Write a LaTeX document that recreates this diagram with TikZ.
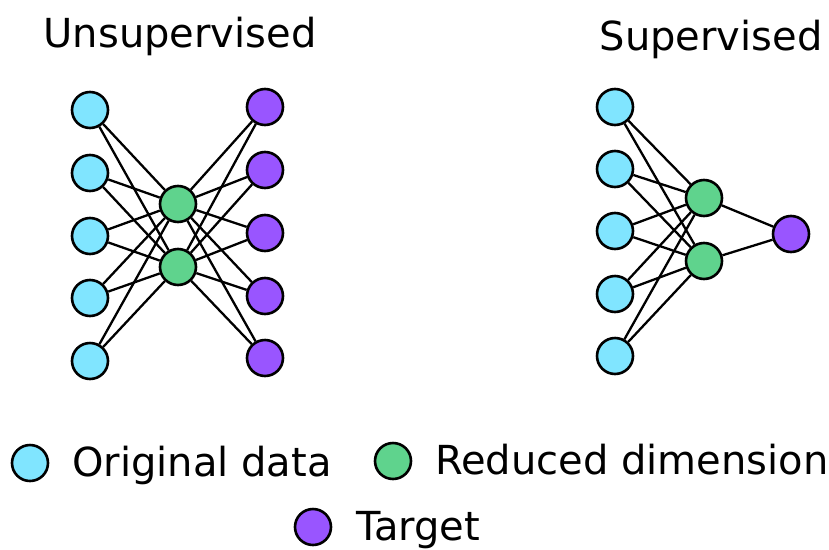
\documentclass[tikz,border=0pt]{standalone}
\usepackage{fontspec}
\setmainfont{DejaVu Sans}
\definecolor{cOrig}{HTML}{80E5FF}
\definecolor{cRed}{HTML}{5FD38D}
\definecolor{cTgt}{HTML}{9955FF}
\begin{document}
\begin{tikzpicture}[x=1pt,y=-1pt,
  neuron/.style={circle,draw=black,line width=2.6pt,minimum size=36pt,inner sep=0pt},
  orig/.style={neuron,fill=cOrig},
  red/.style={neuron,fill=cRed},
  tgt/.style={neuron,fill=cTgt},
  edge/.style={line width=2.3pt,black},
  lbl/.style={font=\fontsize{40}{48}\selectfont,inner sep=0pt}]
\useasboundingbox (0,0) rectangle (829,549);
% Left network
\foreach \i/\y in {1/110,2/173,3/236,4/298,5/361}{
  \node[orig] (la\i) at (90,\y) {};
}
\foreach \i/\y in {1/107,2/170,3/233,4/296,5/358}{
  \node[tgt] (lc\i) at (265,\y) {};
}
\node[red] (lb1) at (178,204) {};
\node[red] (lb2) at (178,267) {};
\foreach \i in {1,...,5}{
  \foreach \j in {1,2}{
    \draw[edge] (la\i) -- (lb\j);
    \draw[edge] (lb\j) -- (lc\i);
  }
}
% Right network
\foreach \i/\y in {1/107,2/169,3/231,4/294,5/356}{
  \node[orig] (ra\i) at (615,\y) {};
}
\node[red] (rb1) at (704,198) {};
\node[red] (rb2) at (704,261) {};
\node[tgt] (rc) at (791,234) {};
\foreach \i in {1,...,5}{
  \foreach \j in {1,2}{
    \draw[edge] (ra\i) -- (rb\j);
  }
}
\draw[edge] (rb1) -- (rc);
\draw[edge] (rb2) -- (rc);
% Titles
\node[lbl,anchor=base] (t1) at (180,47) {Unsupervised};
\node[lbl,anchor=base] (t2) at (711,50) {Supervised};
% Legend
\node[orig] (k1) at (30,463) {};
\node[lbl,anchor=base west] (k1t) at (72,476) {Original data};
\node[red] (k2) at (393,461) {};
\node[lbl,anchor=base west] (k2t) at (435,474) {Reduced dimension};
\node[tgt] (k3) at (313,527) {};
\node[lbl,anchor=base west] (k3t) at (356,540) {Target};
\end{tikzpicture}
\end{document}
